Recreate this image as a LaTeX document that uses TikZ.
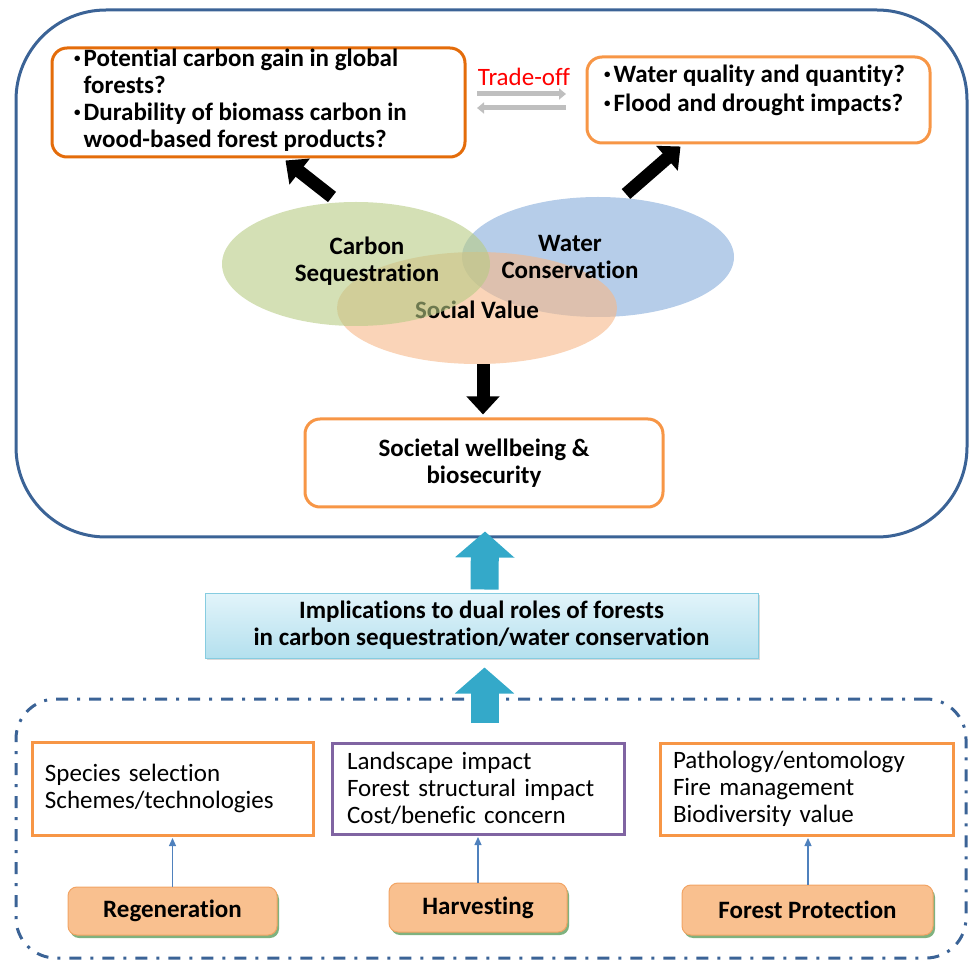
\documentclass[tikz,border=0pt]{standalone}
\usepackage{fontspec}
\setmainfont[Ligatures=NoCommon]{Carlito}
\usetikzlibrary{arrows.meta,shapes.geometric,shadows,calc}
\definecolor{frameblue}{HTML}{3B6396}
\definecolor{darkorange}{HTML}{E46C0A}
\definecolor{lightorange}{HTML}{F79646}
\definecolor{purp}{HTML}{8064A2}
\definecolor{smallblue}{HTML}{4F81BD}
\definecolor{tealarrow}{HTML}{34A9C9}
\definecolor{labelfill}{HTML}{F9C08F}
\definecolor{labeldraw}{HTML}{F2A464}
\definecolor{ellgreen}{HTML}{B7CB84}
\definecolor{ellblue}{HTML}{86ACDA}
\definecolor{ellorange}{HTML}{F6B888}
\definecolor{tradegray}{HTML}{BFBFBF}
\definecolor{impltop}{HTML}{E2F4FA}
\definecolor{implbot}{HTML}{B4E0EE}
\definecolor{impldraw}{HTML}{86CCE0}
\newcommand{\bigb}{\fontsize{25}{27}\selectfont\bfseries}
\newcommand{\regf}{\fontsize{25}{27}\selectfont}
\newcommand{\smbul}{\raisebox{4pt}{\fontsize{13}{13}\selectfont •}}
\begin{document}
\begin{tikzpicture}[x=1pt,y=-1pt,
  qbox/.style={draw, line width=3pt, rounded corners=15pt, fill=white},
  ell/.style={ellipse, fill opacity=0.6, text opacity=1, inner sep=0pt},
  blk/.style={line width=13pt, black, -{Triangle[width=32pt,length=18pt]}},
  tealarr/.style={line width=28pt, tealarrow, -{Triangle[width=58pt,length=26pt]}},
  grayarr/.style={line width=5pt, tradegray, -{Triangle[width=11pt,length=7pt]}},
  tbox/.style={draw, line width=3pt, fill=white, align=left, font=\regf, inner xsep=13pt},
  lab/.style={draw=labeldraw, line width=1pt, fill=labelfill, rounded corners=9pt, font=\bigb,
    drop shadow={shadow xshift=2pt, shadow yshift=-3pt, fill=black!60!green, opacity=0.5}},
  smallarr/.style={smallblue, line width=1.2pt, -{Triangle[width=7pt,length=8pt]}}
]
\useasboundingbox (0,0) rectangle (970,965);

% top frame
\node[draw=frameblue, line width=3pt, rounded corners=90pt, minimum width=951pt, minimum height=527pt, inner sep=0pt] (top) at (491.5,273.5) {};

% question boxes
\node[qbox, draw=darkorange, minimum width=413pt, minimum height=109pt] (q1) at (258.5,102.5) {};
\node[anchor=west, font=\bigb, inner sep=0pt] (q1t) at (74,102)
  {\begin{tabular}{@{}l@{\hspace{3pt}}l@{}}\smbul&Potential carbon gain in global\\&forests?\\\smbul&Durability of biomass carbon in\\&wood-based forest products?\end{tabular}};
\node[qbox, draw=lightorange, minimum width=343pt, minimum height=86pt] (q2) at (758.5,100) {};
\node[anchor=west, font=\bigb, inner sep=0pt] (q2t) at (604,92)
  {\begin{tabular}{@{}l@{\hspace{3pt}}l@{}}\smbul&Water quality and quantity?\\[2pt]\smbul&Flood and drought impacts?\end{tabular}};

% trade-off
\node[font=\regf, text=red, inner sep=0pt] (trade) at (524,77) {Trade-off};
\coordinate (tr1a) at (477,94);
\coordinate (tr1b) at (566,94);
\coordinate (tr2a) at (566,108);
\coordinate (tr2b) at (477,108);
\draw[grayarr] (tr1a) -- (tr1b);
\draw[grayarr] (tr2a) -- (tr2b);

% ellipses
\node[ell, fill=ellblue, minimum width=272pt, minimum height=120pt] (wc) at (598,257) {};
\node[ell, fill=ellorange, minimum width=280pt, minimum height=112pt] (sv) at (477,308) {};
\node[font=\bigb, inner sep=0pt] (svt) at (477,310) {Social Value};
\node[ell, fill=ellgreen, minimum width=268pt, minimum height=124pt] (cs) at (356,264) {};
\node[font=\bigb, align=center, inner sep=0pt] (cst) at (367,261) {Carbon\\Sequestration};
\node[font=\bigb, align=center, inner sep=0pt] (wct) at (570,257) {Water\\Conservation};

% black arrows
\coordinate (a1s) at (332,197);
\coordinate (a2s) at (626,194);
\draw[blk] (a1s) -- ([xshift=27pt, yshift=-2pt]q1.south);
\draw[blk] (a2s) -- ([xshift=-78pt, yshift=-2pt]q2.south);

% societal box
\node[qbox, draw=lightorange, minimum width=358pt, minimum height=88pt, font=\bigb, align=center] (sw) at (484,463) {Societal wellbeing \&\\biosecurity};
\draw[blk] ([xshift=6pt]sv.south) -- ([xshift=-1pt, yshift=3pt]sw.north);

% implications box
\node[draw=impldraw, line width=1pt, top color=impltop, bottom color=implbot, minimum width=553pt, minimum height=65pt, font=\bigb, align=center, inner sep=0pt,
  drop shadow={shadow xshift=2pt, shadow yshift=-2pt, opacity=0.3}] (impl) at (481.5,625.5)
  {Implications to dual roles of forests\\in carbon sequestration/water conservation};
\draw[tealarr] ([xshift=3pt, yshift=3pt]impl.north) -- ([xshift=-6.5pt, yshift=7pt]top.south);

% bottom dashed frame
\node[draw=frameblue, line width=3pt, rounded corners=40pt, dash pattern=on 12pt off 9pt on 3pt off 9pt, minimum width=950pt, minimum height=259pt, inner sep=0pt] (bot) at (491,828.5) {};
\coordinate (t2s) at (484.5,723);
\draw[tealarr] (t2s) -- ([xshift=3pt, yshift=-9pt]impl.south);

% bottom boxes
\node[tbox, draw=lightorange, minimum width=281pt, minimum height=93pt, text width=255pt] (rt) at (172.5,788.5) {Species selection\\Schemes/technologies};
\node[tbox, draw=purp, minimum width=292pt, minimum height=91pt, text width=262pt, inner xsep=15pt] (ht) at (478,788.5) {Landscape impact\\Forest structural impact\\Cost/benefic concern};
\node[tbox, draw=lightorange, minimum width=293pt, minimum height=92pt, text width=267pt] (ft) at (806.5,789) {Pathology/entomology\\Fire management\\Biodiversity value};

% labels
\node[lab, minimum width=209pt, minimum height=48pt] (reg) at (172.5,911) {Regeneration};
\node[lab, minimum width=178pt, minimum height=49pt] (harv) at (478,907.5) {Harvesting};
\node[lab, minimum width=251pt, minimum height=50pt] (fp) at (807.5,910) {Forest Protection};

\draw[smallarr] (reg.north) -- ([yshift=-1.5pt]rt.south);
\draw[smallarr] (harv.north) -- ([yshift=-1.5pt]ht.south);
\draw[smallarr] ([xshift=0.5pt]fp.north) -- ([xshift=1.5pt, yshift=-1.5pt]ft.south);
\end{tikzpicture}
\end{document}
